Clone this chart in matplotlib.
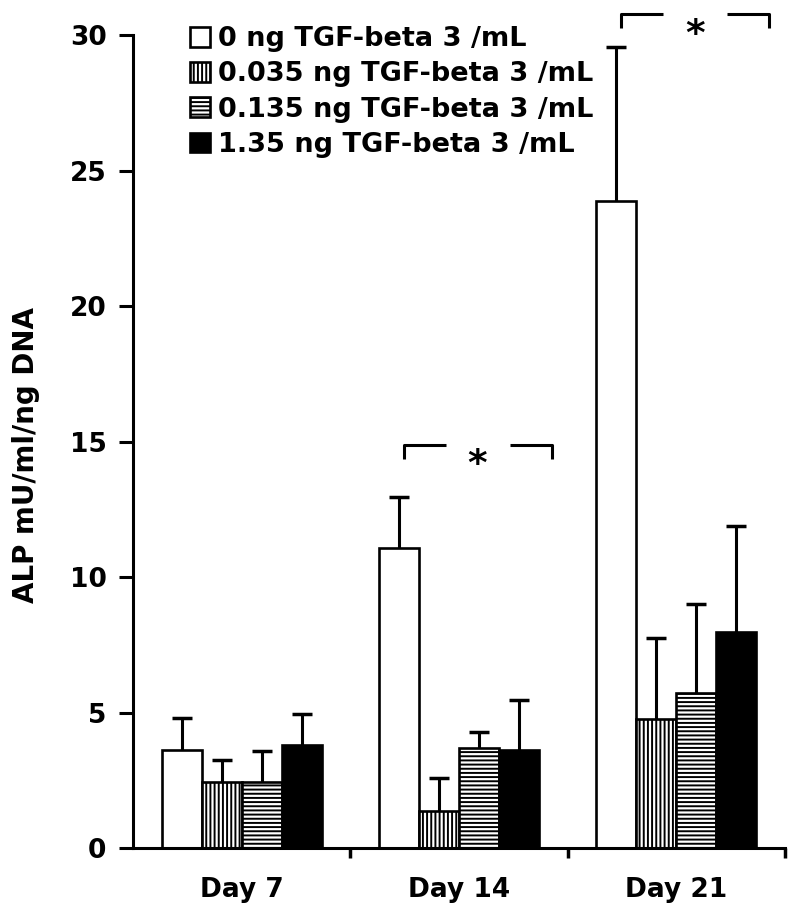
import numpy as np
import matplotlib
matplotlib.use("Agg")
import matplotlib.pyplot as plt

plt.rcParams['font.family'] = ['DejaVu Sans']
plt.rcParams['font.weight'] = 'bold'
plt.rcParams['hatch.linewidth'] = 1.4

days = ["Day 7", "Day 14", "Day 21"]
series = ["0 ng TGF-beta 3 /mL", "0.035 ng TGF-beta 3 /mL",
          "0.135 ng TGF-beta 3 /mL", "1.35 ng TGF-beta 3 /mL"]

# mean ALP per series, one value per day
tgf_0 = [3.6, 11.07, 23.87]
tgf_0035 = [2.45, 1.37, 4.76]
tgf_0135 = [2.45, 3.69, 5.71]
tgf_135 = [3.79, 3.6, 7.98]

# upper error (SD)
err_0 = [1.2, 1.88, 5.7]
err_0035 = [0.8, 1.23, 3.0]
err_0135 = [1.12, 0.59, 3.3]
err_135 = [1.15, 1.86, 3.9]

# significance brackets: (day index, bracket height)
sig_days = [1, 2]
sig_levels = [14.87, 30.77]

means = [tgf_0, tgf_0035, tgf_0135, tgf_135]
errs = [err_0, err_0035, err_0135, err_135]
fills = ['white', 'white', 'white', 'black']
hatches = ['', '||||', '----', '']

fig = plt.figure(figsize=(8, 9.18), dpi=100)
ax = fig.add_axes([0.16625, 0.07625, 0.815, 0.8856])

x = np.arange(len(days))
w = 0.184
offsets = (np.arange(4) - 1.5) * w

for i in range(4):
    ax.bar(x + offsets[i], means[i], w, color=fills[i], edgecolor='black',
           linewidth=1.9, hatch=hatches[i], label=series[i], zorder=2)
    eb = ax.errorbar(x + offsets[i], means[i],
                     yerr=[np.zeros(len(days)), errs[i]], fmt='none',
                     ecolor='black', elinewidth=2.2, capsize=7, capthick=2.5,
                     zorder=3)
    eb[1][0].set_visible(False)  # no cap on the (zero) lower side

# brackets with asterisks
for d, lvl in zip(sig_days, sig_levels):
    kw = dict(color='black', lw=2.2, clip_on=False, solid_capstyle='butt')
    ax.plot([d - 0.255, d - 0.255, d - 0.06], [lvl - 0.5, lvl, lvl], **kw)
    ax.plot([d + 0.235, d + 0.428, d + 0.428], [lvl, lvl, lvl - 0.5], **kw)
    ax.text(d + 0.085, lvl - 1.12, '*', fontsize=27, fontweight='bold',
            ha='center', va='baseline', clip_on=False)

ax.set_xlim(-0.5, 2.5)
ax.set_ylim(0, 30)
ax.set_yticks(np.arange(0, 31, 5))
ax.set_xticks(x)
ax.set_xticklabels(days)
ax.set_xticks(x + 0.5, minor=True)

ax.spines['top'].set_visible(False)
ax.spines['right'].set_visible(False)
ax.spines['left'].set_linewidth(2.2)
ax.spines['bottom'].set_linewidth(2.2)

ax.tick_params(axis='y', direction='out', length=10, width=2.2, pad=9,
               labelsize=19)
ax.tick_params(axis='x', which='major', length=0, pad=21, labelsize=19)
ax.tick_params(axis='x', which='minor', direction='out', length=7, width=2.5)

ax.set_ylabel('ALP mU/ml/ng DNA', fontsize=20, fontweight='bold', va='center')
ax.yaxis.set_label_coords(-0.164, 0.483)

ax.legend(loc='upper left', bbox_to_anchor=(190 / 800, 0.9715),
          bbox_transform=fig.transFigure, frameon=False, fontsize=19.5,
          handlelength=0.74, handleheight=0.74, handletextpad=0.28,
          labelspacing=0.34, borderpad=0, borderaxespad=0)

fig.savefig('out.png', dpi=100)
